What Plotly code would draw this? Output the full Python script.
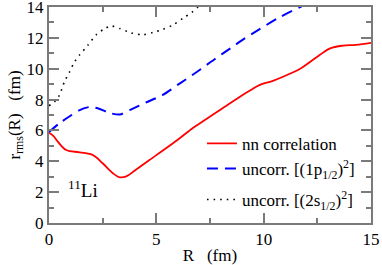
import plotly.graph_objects as go

# nn correlation (red solid)
r_nn = [0, 0.2, 0.41, 0.8, 1.43, 2.05, 2.5, 2.98, 3.3, 3.6, 4.0, 5.0, 6.0, 6.7, 7.0, 8.0, 9.0, 9.4, 9.8, 10.4, 10.9, 11.7, 12.5, 13.1, 13.7, 14.3, 15.0]
y_nn = [5.85, 5.65, 5.27, 4.73, 4.58, 4.4, 3.87, 3.22, 2.96, 3.02, 3.4, 4.4, 5.4, 6.16, 6.44, 7.36, 8.28, 8.62, 8.94, 9.2, 9.48, 10.0, 10.78, 11.32, 11.5, 11.55, 11.68]

# uncorrelated (1p1/2)^2 (blue dashed)
r_p = [0, 0.5, 1.0, 1.43, 1.9, 2.3, 2.83, 3.3, 3.76, 4.5, 5.3, 6.1, 6.9, 7.7, 8.43, 9.1, 9.74, 10.7, 11.7, 12.1]
y_p = [5.9, 6.48, 6.95, 7.32, 7.52, 7.42, 7.13, 7.03, 7.32, 7.8, 8.3, 9.05, 9.8, 10.6, 11.3, 11.95, 12.5, 13.3, 14.0, 14.25]

# uncorrelated (2s1/2)^2 (black dotted)
r_s = [0, 0.26, 0.49, 0.72, 0.96, 1.19, 1.43, 1.8, 2.2, 2.6, 2.9, 3.3, 3.67, 3.9, 4.37, 4.84, 5.3, 5.77, 6.24, 6.7, 6.94, 7.1]
y_s = [7.6, 7.86, 8.3, 9.16, 9.8, 10.45, 10.9, 11.5, 12.2, 12.6, 12.77, 12.6, 12.4, 12.3, 12.2, 12.35, 12.55, 12.83, 13.27, 13.7, 14.0, 14.15]

x_ticks = [0, 5, 10, 15]
y_ticks = [0, 2, 4, 6, 8, 10, 12, 14]

FONT = "Times New Roman, Liberation Serif, Tinos, serif"
AX = "#7a7a7a"

fig = go.Figure()
fig.add_trace(go.Scatter(x=r_nn, y=y_nn, mode="lines", name="nn correlation", legendgroup="a",
                         line=dict(color="#ff0000", width=1.8, shape="spline", smoothing=1.0)))
fig.add_trace(go.Scatter(x=r_p, y=y_p, mode="lines", name="uncorr. [(1p<sub>1/2</sub>)<sup>2</sup>]", legendgroup="a",
                         line=dict(color="#0000ff", width=2, dash="11px,7px", shape="spline", smoothing=0.8)))
fig.add_trace(go.Scatter(x=r_s, y=y_s, mode="lines", name="uncorr. [(2s<sub>1/2</sub>)<sup>2</sup>]", legendgroup="b",
                         line=dict(color="#000000", width=1.6, dash="1.6px,5px", shape="spline", smoothing=0.8)))

axis_common = dict(
    showline=True, linecolor=AX, linewidth=2, mirror="allticks",
    ticks="inside", ticklen=10, tickwidth=1.5, tickcolor=AX,
    showgrid=False, zeroline=False, ticklabeloverflow="allow",
    tickfont=dict(family=FONT, size=17, color="black"),
)

fig.update_xaxes(range=[0, 15], tickvals=x_ticks, ticktext=[str(v) for v in x_ticks],
                 minor=dict(ticks="inside", ticklen=5, tickwidth=1.5, tickcolor=AX, dtick=2.5, tick0=0),
                 title=dict(text="R   (fm)", font=dict(family=FONT, size=17, color="black"), standoff=2),
                 **axis_common)
fig.update_yaxes(range=[0, 14], tickvals=y_ticks, ticktext=[str(v) for v in y_ticks],
                 minor=dict(ticks="inside", ticklen=5, tickwidth=1.5, tickcolor=AX, dtick=1, tick0=0),
                 title=dict(text="r<sub>rms</sub>(R)   (fm)", font=dict(family=FONT, size=17, color="black"), standoff=2),
                 **axis_common)

fig.add_annotation(x=1.6, y=2.2, xref="x", yref="y", text="<sup>11</sup>Li", showarrow=False,
                   font=dict(family=FONT, size=19, color="black"))

fig.update_layout(
    width=382, height=265,
    margin=dict(l=49, r=11, t=7, b=42, autoexpand=False),
    paper_bgcolor="white", plot_bgcolor="white",
    showlegend=True,
    legend=dict(x=0.475, y=0.45, xanchor="left", yanchor="top", bgcolor="rgba(0,0,0,0)",
                font=dict(family=FONT, size=17, color="black"), tracegroupgap=6,
                itemwidth=30),
)

# remove the page's default 8px body margin so the figure fills the window
fig.write_html("out.html", config={"displayModeBar": False},
               post_script="document.body.style.margin='0';")
